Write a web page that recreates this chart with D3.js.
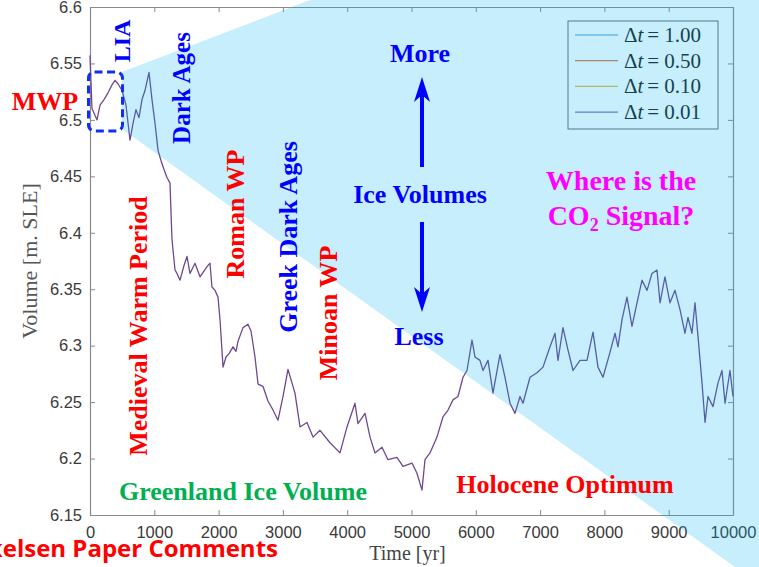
<!DOCTYPE html>
<html><head><meta charset="utf-8">
<script src="https://cdn.jsdelivr.net/npm/d3@7"></script>
<style>body{margin:0;background:#fff;overflow:hidden}svg{display:block}</style>
</head><body>
<svg id="c" width="759" height="567"></svg>
<script>
// ---- data ----
const times = [0,31,109,156,218,280,342,389,435,498,560,622,669,715,762,809,855,918,964,1011,1058,1104,1151,1197,1244,1275,1322,1353,1400,1462,1509,1555,1633,1711,1820,1866,1897,1944,1991,2022,2069,2115,2162,2224,2271,2302,2380,2457,2504,2566,2613,2690,2768,2846,2924,3002,3079,3188,3266,3375,3468,3577,3733,3888,3997,4121,4168,4277,4355,4432,4541,4634,4774,4868,5008,5085,5163,5210,5288,5396,5490,5568,5645,5723,5801,5863,5941,5987,6065,6112,6190,6267,6376,6454,6532,6610,6687,6734,6843,6952,7045,7154,7232,7278,7356,7434,7512,7620,7729,7823,7900,7978,8087,8165,8211,8274,8351,8429,8507,8585,8663,8740,8818,8865,8942,9020,9098,9176,9253,9300,9362,9409,9456,9518,9565,9611,9689,9767,9829,9876,9953,10000];
const volumes = [6.557,6.510,6.500,6.513,6.518,6.524,6.531,6.535,6.532,6.526,6.513,6.482,6.497,6.509,6.502,6.518,6.526,6.542,6.518,6.497,6.473,6.464,6.456,6.449,6.444,6.394,6.367,6.364,6.358,6.371,6.379,6.364,6.373,6.361,6.370,6.373,6.352,6.349,6.343,6.323,6.281,6.290,6.293,6.299,6.295,6.304,6.316,6.319,6.313,6.290,6.266,6.264,6.251,6.243,6.234,6.255,6.279,6.258,6.228,6.232,6.219,6.225,6.214,6.205,6.228,6.249,6.231,6.240,6.219,6.205,6.210,6.199,6.201,6.193,6.196,6.187,6.172,6.199,6.205,6.219,6.237,6.243,6.252,6.255,6.272,6.278,6.305,6.290,6.287,6.278,6.287,6.258,6.292,6.272,6.249,6.240,6.255,6.249,6.272,6.276,6.281,6.299,6.311,6.287,6.316,6.296,6.278,6.287,6.287,6.312,6.281,6.272,6.294,6.311,6.299,6.323,6.343,6.317,6.338,6.358,6.349,6.364,6.367,6.338,6.361,6.338,6.349,6.332,6.311,6.325,6.311,6.338,6.308,6.267,6.232,6.255,6.246,6.267,6.278,6.249,6.278,6.255];
const xTicks = [0,1000,2000,3000,4000,5000,6000,7000,8000,9000,10000];
const yTicks = [6.15,6.2,6.25,6.3,6.35,6.4,6.45,6.5,6.55,6.6];
const legendLabels = ["1.00","0.50","0.10","0.01"];
const legendColors = ["#4d9be0","#e07a4a","#e0bc3c","#8a6ad0"];

// ---- layout ----
const W = 759, H = 567;
const L = 90, R = 733, T = 7, B = 515;
const svg = d3.select("#c");
const x = d3.scaleLinear().domain([0,10000]).range([L,R]);
const y = d3.scaleLinear().domain([6.15,6.6]).range([B,T]);
const axisCol = "#8a8a8a", txtCol = "#3a3a3a";
const serif = "'Liberation Serif','Times New Roman',serif";
const sans = "'Liberation Sans',Arial,Helvetica,sans-serif";

svg.append("rect").attr("width",W).attr("height",H).attr("fill","#fff");

function styleAxis(g, labels){
  g.select(".domain").attr("stroke",axisCol).attr("stroke-width",1.2);
  g.selectAll(".tick line").attr("stroke",axisCol).attr("stroke-width",1);
  g.selectAll(".tick text").attr("fill",txtCol).style("font-family",sans).style("font-size","16.5px");
  if(!labels) g.selectAll(".tick text").remove();
}
const fmtY = d => String(+d.toFixed(2));
svg.append("g").attr("transform",`translate(0,${B})`)
  .call(d3.axisBottom(x).tickValues(xTicks).tickFormat(d3.format("d")).tickSizeInner(-5).tickSizeOuter(0).tickPadding(11))
  .call(g=>styleAxis(g,true));
svg.append("g").attr("transform",`translate(0,${T})`)
  .call(d3.axisTop(x).tickValues(xTicks).tickSizeInner(-5).tickSizeOuter(0))
  .call(g=>styleAxis(g,false));
svg.append("g").attr("transform",`translate(${L},0)`)
  .call(d3.axisLeft(y).tickValues(yTicks).tickFormat(fmtY).tickSizeInner(-5).tickSizeOuter(0).tickPadding(8))
  .call(g=>styleAxis(g,true));
svg.append("g").attr("transform",`translate(${R},0)`)
  .call(d3.axisRight(y).tickValues(yTicks).tickSizeInner(-5).tickSizeOuter(0))
  .call(g=>styleAxis(g,false));

// axis labels
svg.append("text").attr("x",(L+R)/2-4).attr("y",560).attr("text-anchor","middle")
  .attr("fill","#444").style("font-family",serif).style("font-size","20px").text("Time [yr]");
svg.append("text").attr("transform",`translate(37,${(T+B)/2}) rotate(-90)`).attr("text-anchor","middle")
  .attr("fill","#555").style("font-family",serif).style("font-size","22px").text("Volume [m. SLE]");

// series line
const pts = times.map((t,i)=>[t,volumes[i]]);
svg.append("path").datum(pts)
  .attr("d", d3.line().x(d=>x(d[0])).y(d=>y(d[1])))
  .attr("fill","none").attr("stroke","#6e4892").attr("stroke-width",1.3).attr("stroke-linejoin","round");

// legend
const lg = svg.append("g");
lg.append("rect").attr("x",568).attr("y",21).attr("width",150).attr("height",108)
  .attr("fill","#fff").attr("stroke","#6a6a6a").attr("stroke-width",1);
legendLabels.forEach((lab,i)=>{
  const cy = 35 + i*25.7;
  lg.append("line").attr("x1",575).attr("x2",618).attr("y1",cy).attr("y2",cy)
    .attr("stroke",legendColors[i]).attr("stroke-width",1.2);
  const t = lg.append("text").attr("x",624).attr("y",cy+7).attr("fill","#1e1e1e")
    .style("font-family",serif).style("font-size","21px");
  t.append("tspan").text("\u0394");
  t.append("tspan").style("font-style","italic").text("t");
  t.append("tspan").attr("dx",4).text("=");
  t.append("tspan").attr("dx",5).text(lab);
});

// translucent blue overlay
const overlay = [[122,72],[310,0],[W,0],[W,H],[735,H],[122,129]];
svg.append("path").attr("d", d3.line()(overlay)+"Z")
  .attr("fill","#00b0f0").attr("fill-opacity",0.22);

// dashed box
svg.append("rect").attr("x",88.5).attr("y",72).attr("width",34).attr("height",59).attr("rx",6)
  .attr("fill","none").attr("stroke","#1030f0").attr("stroke-width",3).attr("stroke-dasharray","8,4.5");

// annotations
const RED="#ff0000", BLUE="#0000ff", MAG="#ff00ff", GRN="#00b050";
function ann(txt, px, py, col, size, rot){
  const t = svg.append("text").attr("text-anchor","middle").attr("fill",col)
    .style("font-family",serif).style("font-weight","bold").style("font-size",size+"px");
  if(rot) t.attr("transform",`translate(${px},${py}) rotate(-90)`);
  else t.attr("x",px).attr("y",py);
  t.text(txt);
  return t;
}
ann("MWP", 45, 110, RED, 26);
ann("LIA", 130, 41, BLUE, 24, true);
ann("Dark Ages", 190, 88, BLUE, 25, true);
ann("Medieval Warm Period", 147, 326, RED, 26, true);
ann("Roman WP", 244, 214, RED, 26, true);
ann("Greek Dark Ages", 297, 237, BLUE, 26, true);
ann("Minoan WP", 337, 313, RED, 26, true);
ann("More", 420, 62, BLUE, 26);
ann("Ice Volumes", 420, 203, BLUE, 26);
ann("Less", 419, 345, BLUE, 26);
ann("Where is the", 621, 190, MAG, 28);
const co = svg.append("text").attr("x",621).attr("y",225).attr("text-anchor","middle").attr("fill",MAG)
  .style("font-family",serif).style("font-weight","bold").style("font-size","28px");
co.append("tspan").text("CO");
co.append("tspan").attr("dy",6).style("font-size","18px").text("2");
co.append("tspan").attr("dy",-6).text(" Signal?");
ann("Greenland Ice Volume", 243, 500, GRN, 26);
ann("Holocene Optimum", 565, 493, RED, 26);

// arrows
function arrow(xp, y0, y1){
  const dir = Math.sign(y1-y0);
  svg.append("line").attr("x1",xp).attr("x2",xp).attr("y1",y0).attr("y2",y1-dir*14)
    .attr("stroke",BLUE).attr("stroke-width",4);
  const bx = y1 - dir*25, nx = y1 - dir*18;
  svg.append("path").attr("d",`M${xp},${y1} L${xp-8},${bx} L${xp},${nx} L${xp+8},${bx} Z`).attr("fill",BLUE);
}
arrow(422, 167, 77);
arrow(422, 222, 312);

// slide caption (cut off at left edge)
svg.append("text").attr("x",278).attr("y",557).attr("text-anchor","end").attr("fill","#ff0000")
  .style("font-family","'Open Sans',sans-serif").style("font-weight","bold").style("font-size","24px")
  .text("Mikkelsen Paper Comments");
</script>
</body></html>
